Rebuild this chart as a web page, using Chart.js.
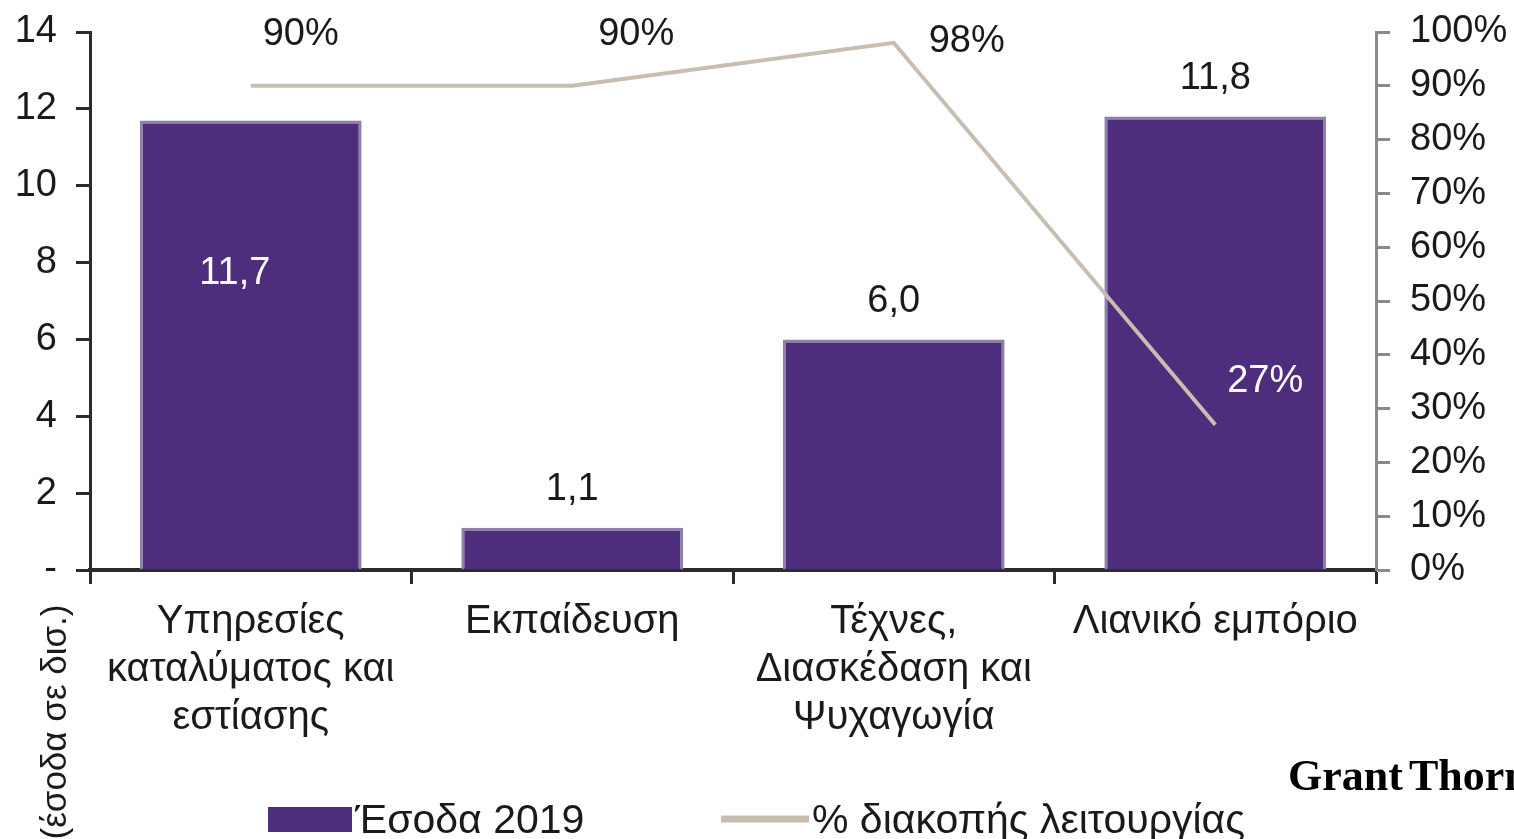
<!DOCTYPE html>
<html>
<head>
<meta charset="utf-8">
<script src="https://cdn.jsdelivr.net/npm/chart.js@4.4.0/dist/chart.umd.min.js"></script>
<style>
  html, body { margin: 0; padding: 0; background: #fff; }
  #wrap { width: 1514px; height: 839px; }
</style>
</head>
<body>
<div id="wrap"><canvas id="chart" width="1514" height="839"></canvas></div>
<script>
// data
const categories = [
    ['Υπηρεσίες', 'καταλύματος και', 'εστίασης'],
    'Εκπαίδευση',
    ['Τέχνες,', 'Διασκέδαση και', 'Ψυχαγωγία'],
    'Λιανικό εμπόριο'
];
const revenue2019 = [11.7, 1.1, 6.0, 11.8];      // δισ. €
const closurePct = [90, 90, 98, 27];              // %
const revenueLabel = 'Έσοδα 2019';
const closureLabel = '% διακοπής λειτουργίας';
const yTitle = '(έσοδα σε δισ.)';

const PURPLE = '#4e2e7c';
const LINE = '#c8bdb1';
const DARK = '#2b2b2b';
const FONT = '"Liberation Sans", Arial, sans-serif';

const fmt = v => v.toFixed(1).replace('.', ',');

// where each data label sits relative to its mark
const lineLabelShift = [[50, -51], [64, -51], [73, -1], [50, -43]];

const labelsPlugin = {
    id: 'valueLabels',
    afterDatasetsDraw(chart) {
        const ctx = chart.ctx;
        ctx.save();
        ctx.font = '38px ' + FONT;
        ctx.textAlign = 'center';
        ctx.textBaseline = 'middle';
        chart.getDatasetMeta(0).data.forEach((bar, i) => {
            if (i === 0) {
                ctx.fillStyle = '#ffffff';
                ctx.fillText(fmt(revenue2019[i]), bar.x - 16, bar.y + (bar.base - bar.y) * 0.34);
            } else {
                ctx.fillStyle = '#1a1a1a';
                ctx.fillText(fmt(revenue2019[i]), bar.x, bar.y - 38);
            }
        });
        chart.getDatasetMeta(1).data.forEach((pt, i) => {
            ctx.fillStyle = i === 3 ? '#ffffff' : '#1a1a1a';
            ctx.fillText(closurePct[i] + '%', pt.x + lineLabelShift[i][0], pt.y + lineLabelShift[i][1]);
        });
        ctx.restore();
    },
    afterDraw(chart) {
        const ctx = chart.ctx;
        ctx.save();
        // legend
        ctx.fillStyle = PURPLE;
        ctx.fillRect(268, 807, 84, 25);
        ctx.strokeStyle = LINE;
        ctx.lineWidth = 7;
        ctx.beginPath();
        ctx.moveTo(721, 819);
        ctx.lineTo(809, 819);
        ctx.stroke();
        ctx.fillStyle = '#1a1a1a';
        ctx.font = '41px ' + FONT;
        ctx.textAlign = 'left';
        ctx.textBaseline = 'alphabetic';
        ctx.fillText(revenueLabel, 355, 833);
        ctx.fillText(closureLabel, 812, 833);
        // rotated axis title
        ctx.save();
        ctx.translate(56, 722);
        ctx.rotate(-Math.PI / 2);
        ctx.textAlign = 'center';
        ctx.textBaseline = 'middle';
        ctx.font = '35px ' + FONT;
        ctx.fillText(yTitle, 0, 0);
        ctx.restore();
        // logo text
        ctx.font = 'bold 44px "Liberation Serif", "DejaVu Serif", serif';
        ctx.fillStyle = '#000';
        ctx.fillText('Grant', 1288, 790);
        ctx.fillText('Thornton', 1409, 790);
        ctx.restore();
    }
};

new Chart(document.getElementById('chart').getContext('2d'), {
    data: {
        labels: categories,
        datasets: [{
            type: 'bar',
            label: revenueLabel,
            data: revenue2019,
            yAxisID: 'y',
            backgroundColor: PURPLE,
            borderColor: '#8f80ab',
            borderWidth: 3,
            borderSkipped: 'bottom',
            categoryPercentage: 1,
            barPercentage: 0.69,
            order: 2
        }, {
            type: 'line',
            label: closureLabel,
            data: closurePct,
            yAxisID: 'y2',
            borderColor: LINE,
            borderWidth: 4,
            pointRadius: 0,
            tension: 0,
            order: 1
        }]
    },
    options: {
        responsive: false,
        animation: false,
        layout: { padding: { top: 32, left: 0, right: 0, bottom: 0 } },
        plugins: { legend: { display: false }, tooltip: { enabled: false } },
        scales: {
            x: {
                offset: true,
                afterFit: s => { s.height = 269; },
                grid: { offset: true, drawOnChartArea: false, tickLength: 14, tickColor: DARK, tickWidth: 3 },
                border: { color: DARK, width: 4 },
                ticks: {
                    autoSkip: false, maxRotation: 0, minRotation: 0, padding: 14,
                    color: '#1a1a1a', font: { family: FONT, size: 40, lineHeight: 1.2 }
                }
            },
            y: {
                position: 'left',
                min: 0, max: 14,
                afterFit: s => { s.width = 90; s.paddingTop = 0; s.paddingBottom = 0; },
                grid: { drawOnChartArea: false, tickLength: 14, tickColor: DARK, tickWidth: 3 },
                border: { color: DARK, width: 3 },
                ticks: {
                    stepSize: 2, padding: 19, color: '#1a1a1a',
                    font: { family: FONT, size: 38 },
                    callback: v => v === 0 ? '-' : v
                }
            },
            y2: {
                position: 'right',
                min: 0, max: 100,
                afterFit: s => { s.width = 138; s.paddingTop = 0; s.paddingBottom = 0; },
                grid: { drawOnChartArea: false, tickLength: 14, tickColor: '#8a8a8a', tickWidth: 3 },
                border: { color: '#8a8a8a', width: 3 },
                ticks: {
                    stepSize: 10, padding: 20, color: '#1a1a1a',
                    font: { family: FONT, size: 38 },
                    callback: v => v + '%'
                }
            }
        }
    },
    plugins: [labelsPlugin]
});
</script>
</body>
</html>
